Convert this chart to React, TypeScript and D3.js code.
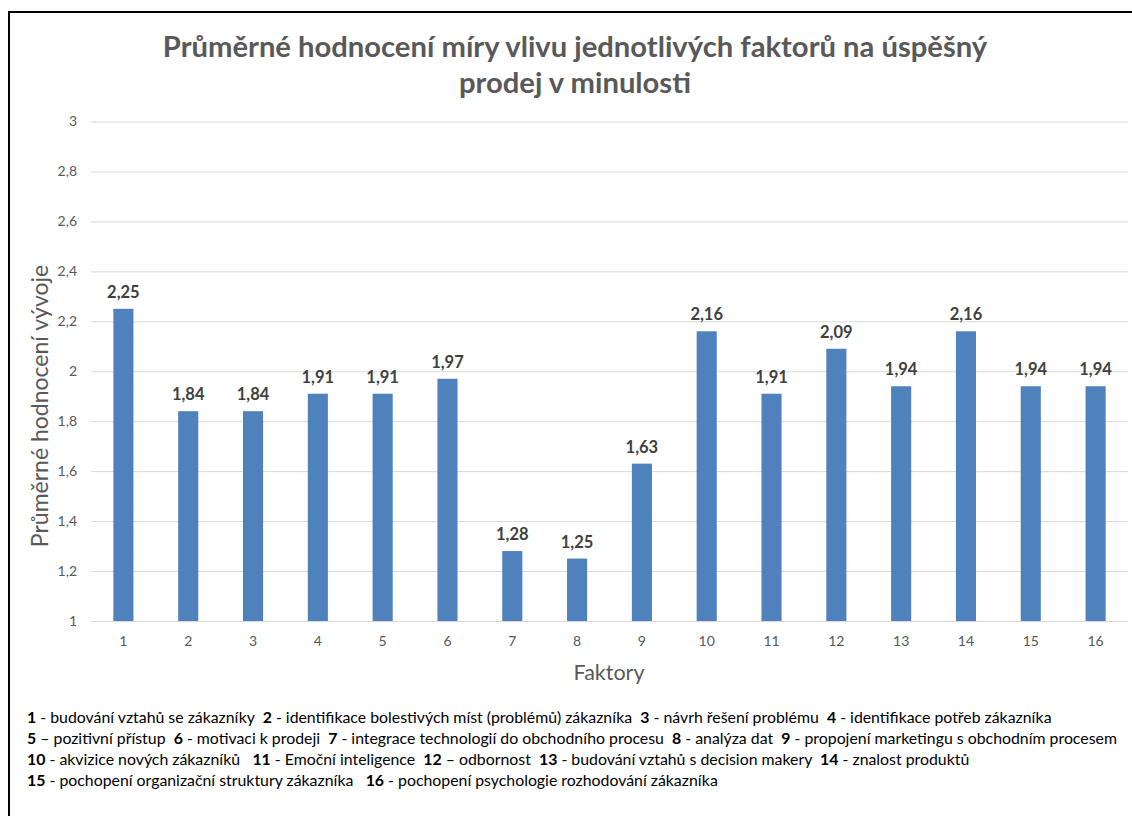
import { useEffect, useRef } from "react";
import * as d3 from "d3";

// data
const factors = ["1", "2", "3", "4", "5", "6", "7", "8", "9", "10", "11", "12", "13", "14", "15", "16"];
const averages = [2.25, 1.84, 1.84, 1.91, 1.91, 1.97, 1.28, 1.25, 1.63, 2.16, 1.91, 2.09, 1.94, 2.16, 1.94, 1.94];
const yTicks = [1, 1.2, 1.4, 1.6, 1.8, 2, 2.2, 2.4, 2.6, 2.8, 3];
const titleLines = [
  "Průměrné hodnocení míry vlivu jednotlivých faktorů na úspěšný",
  "prodej v minulosti",
];
const legendNumbers = [
  ["1", "2", "3", "4"],
  ["5", "6", "7", "8", "9"],
  ["10", "11", "12", "13", "14"],
  ["15", "16"],
];
const legendTexts = [
  [" - budování vztahů se zákazníky  ", " - identifikace bolestivých míst (problémů) zákazníka  ", " - návrh řešení problému  ", " - identifikace potřeb zákazníka"],
  [" – pozitivní přístup  ", " - motivaci k prodeji  ", " - integrace technologií do obchodního procesu  ", " - analýza dat  ", " - propojení marketingu s obchodním procesem"],
  [" - akvizice nových zákazníků   ", " - Emoční inteligence  ", " – odbornost  ", " - budování vztahů s decision makery  ", " - znalost produktů"],
  [" - pochopení organizační struktury zákazníka   ", " - pochopení psychologie rozhodování zákazníka"],
];

const App = () => {
  const ref = useRef(null);

  useEffect(() => {
    const width = 1132;
    const height = 816;
    const font = "Lato, 'Open Sans', sans-serif";
    const grey = "#595959";

    const root = d3.select(ref.current);
    root.selectAll("*").remove();
    const svg = root.append("svg").attr("width", width).attr("height", height).style("display", "block");

    svg.append("rect").attr("width", width).attr("height", height).attr("fill", "#fff");
    // ramecek (vpravo a dole je oriznuty)
    svg
      .append("path")
      .attr("d", `M9,${height} V12 H${width}`)
      .attr("fill", "none")
      .attr("stroke", "#000")
      .attr("stroke-width", 2);

    const loc = d3.formatLocale({ decimal: ",", thousands: " ", grouping: [3], currency: ["", " Kč"] });
    const fmtTick = (d) => loc.format("~g")(d);
    const fmtVal = loc.format(".2f");

    const x = d3.scaleBand().domain(factors).range([91, 1128]).paddingInner(0.69).paddingOuter(0.345);
    const y = d3.scaleLinear().domain([1, 3]).range([621, 121.5]);

    // nadpis
    svg
      .append("text")
      .attr("text-anchor", "middle")
      .attr("font-family", font)
      .attr("font-weight", "bold")
      .attr("font-size", 29.2)
      .attr("fill", grey)
      .selectAll("tspan")
      .data(titleLines)
      .join("tspan")
      .attr("x", 575)
      .attr("y", (d, i) => 57 + i * 36)
      .text((d) => d);

    // mrizka + osa y
    const yAxis = svg
      .append("g")
      .attr("transform", "translate(91,0)")
      .call(d3.axisLeft(y).tickValues(yTicks).tickFormat(fmtTick).tickSize(-(1128 - 91)).tickPadding(14));
    yAxis.select(".domain").remove();
    yAxis.selectAll("line").attr("stroke", "#d9d9d9").attr("stroke-width", 1);
    yAxis.selectAll("text").attr("font-family", font).attr("font-size", 14).attr("fill", grey);

    // osa x
    const xAxis = svg
      .append("g")
      .attr("transform", "translate(0,621)")
      .call(d3.axisBottom(x).tickSize(0).tickPadding(15));
    xAxis.select(".domain").remove();
    xAxis.selectAll("text").attr("font-family", font).attr("font-size", 14).attr("fill", grey);

    // sloupce
    svg
      .append("g")
      .selectAll("rect")
      .data(averages)
      .join("rect")
      .attr("x", (d, i) => x(factors[i]))
      .attr("y", (d) => y(d))
      .attr("width", x.bandwidth())
      .attr("height", (d) => y(1) - y(d))
      .attr("fill", "#4f81bd");

    svg
      .append("g")
      .selectAll("text")
      .data(averages)
      .join("text")
      .attr("x", (d, i) => x(factors[i]) + x.bandwidth() / 2)
      .attr("y", (d) => y(d) - 11)
      .attr("text-anchor", "middle")
      .attr("font-family", font)
      .attr("font-weight", "bold")
      .attr("font-size", 16.5)
      .attr("fill", "#404040")
      .text((d) => fmtVal(d));

    // nazvy os
    svg
      .append("text")
      .attr("x", 609)
      .attr("y", 680)
      .attr("text-anchor", "middle")
      .attr("font-family", font)
      .attr("font-size", 21.5)
      .attr("fill", grey)
      .text("Faktory");

    svg
      .append("text")
      .attr("transform", "translate(48,406) rotate(-90)")
      .attr("text-anchor", "middle")
      .attr("font-family", font)
      .attr("font-size", 23)
      .attr("fill", grey)
      .text("Průměrné hodnocení vývoje");

    // legenda faktoru
    legendNumbers.forEach((nums, row) => {
      const t = svg
        .append("text")
        .attr("x", 27)
        .attr("y", 723 + row * 21)
        .attr("font-family", font)
        .attr("font-size", 15.85)
        .attr("fill", "#000")
        .style("white-space", "pre");
      nums.forEach((n, i) => {
        t.append("tspan").attr("font-weight", "bold").text(n);
        t.append("tspan").text(legendTexts[row][i]);
      });
    });
  }, []);

  return <div ref={ref} style={{ position: "absolute", left: 0, top: 0 }} />;
};

export default App;
